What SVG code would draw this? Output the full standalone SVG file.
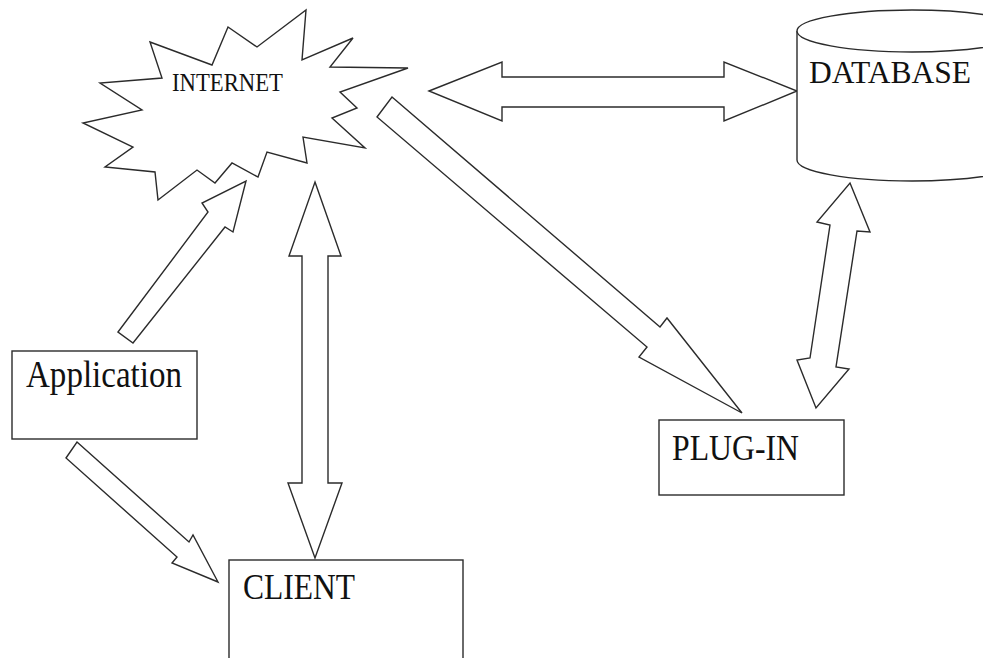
<svg xmlns="http://www.w3.org/2000/svg" width="983" height="658" viewBox="0 0 983 658">
  <style>
    .shape { fill: #ffffff; stroke: #2b2b2b; stroke-width: 1.4; stroke-linejoin: miter; }
    .label { font-family: "Liberation Serif", "Times New Roman", serif; fill: #111111; }
  </style>
  <rect x="0" y="0" width="983" height="658" fill="#ffffff"/>

  <!-- block arrows -->
  <g id="connectors">
    <!-- INTERNET <-> DATABASE -->
    <polygon class="shape" points="429,91 502,62 502,77 724,77 724,62 797,91 724,121 724,107 502,107 502,121"/>
    <!-- INTERNET -> PLUG-IN -->
    <polygon class="shape" points="392,97 660,327 667,318 742,413 639,357 647,347 377,117"/>
    <!-- Application -> INTERNET -->
    <polygon class="shape" points="118,332 208,212 202,203 246,181 233,232 225,227 133,343"/>
    <!-- INTERNET <-> CLIENT -->
    <polygon class="shape" points="315,182 341,256 328,256 328,483 342,483 315,558 288,483 302,483 302,256 289,256"/>
    <!-- Application -> CLIENT -->
    <polygon class="shape" points="77,442 189,542 193,535 218,582 172,563 177,557 66,458"/>
    <!-- DATABASE <-> PLUG-IN -->
    <polygon class="shape" points="850,183 870,232 857,231 836,367 849,369 816,408 797,360 810,358 830,225 817,222"/>
  </g>

  <g id="internet">
    <polygon class="shape" points="306,10 302,60 353,38 330,67 408,68 340,92 357,108 332,118 365,148 303,137 307,163 267,152 258,177 232,163 215,183 197,170 158,200 155,172 105,167 133,147 83,123 142,110 100,83 162,78 150,42 212,65 228,27 257,47"/>
    <text class="label" x="172" y="91" font-size="25" textLength="111" lengthAdjust="spacingAndGlyphs">INTERNET</text>
  </g>

  <g id="database">
    <path class="shape" d="M797,31 L797,160 A115,21 0 0 0 1027,160 L1027,31"/>
    <ellipse class="shape" cx="912" cy="31" rx="115" ry="21"/>
    <text class="label" x="809" y="83" font-size="32" textLength="162" lengthAdjust="spacingAndGlyphs">DATABASE</text>
  </g>

  <g id="application">
    <rect class="shape" x="12" y="351" width="185" height="88"/>
    <text class="label" x="26" y="387" font-size="37" textLength="156" lengthAdjust="spacingAndGlyphs">Application</text>
  </g>

  <g id="client">
    <rect class="shape" x="229" y="560" width="234" height="110"/>
    <text class="label" x="243" y="599" font-size="35" textLength="112" lengthAdjust="spacingAndGlyphs">CLIENT</text>
  </g>

  <g id="plugin">
    <rect class="shape" x="659" y="420" width="185" height="75"/>
    <text class="label" x="672" y="460" font-size="35" textLength="127" lengthAdjust="spacingAndGlyphs">PLUG-IN</text>
  </g>
</svg>
